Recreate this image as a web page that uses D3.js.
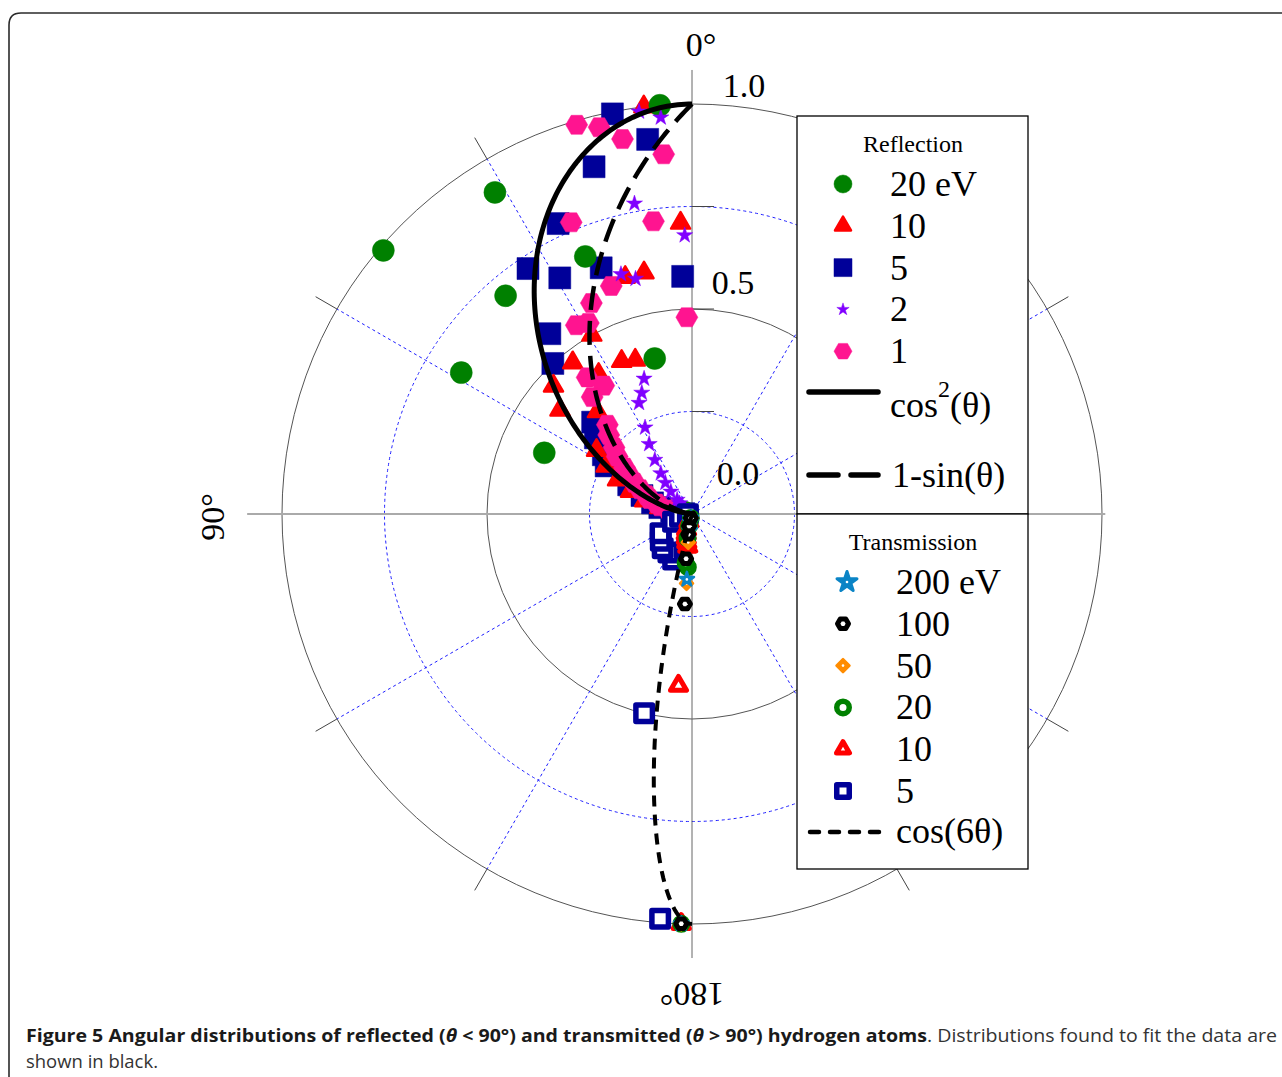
<!DOCTYPE html>
<html>
<head>
<meta charset="utf-8">
<title>Figure 5</title>
<script src="https://cdn.jsdelivr.net/npm/d3@7/dist/d3.min.js"></script>
<style>
  body { margin: 0; background: #fff; }
  svg { display: block; }
</style>
</head>
<body>
<svg id="polar_svg" width="1282" height="1077"></svg>
<script>
// angles are degrees from the surface normal (0 = top, 90 = left, 180 = bottom)
// values are yields normalised to 1

// reflection
var refl20Angles = [4.5, 13.5, 22.5, 31.5, 40.5, 49.5, 58.5, 67.5, 76.5, 85.5];
var refl20Values = [1.00, 0.39, 0.68, 0.92, 0.70, 0.99, 0.66, 0.39, 0.02, 0.01];

var refl10Angles = [2.25, 6.75, 11.25, 15.75, 20.25, 24.75, 29.25, 33.75, 38.25, 42.75,
                    47.25, 51.75, 56.25, 60.75, 65.25, 69.75, 74.25, 78.75, 83.25, 87.75];
var refl10Values = [0.71, 1.00, 0.60, 0.60, 0.40, 0.41, 0.50, 0.41, 0.47, 0.34,
                    0.46, 0.41, 0.28, 0.24, 0.20, 0.16, 0.12, 0.08, 0.05, 0.02];

var refl5Angles = [2.25, 6.75, 11.25, 15.75, 20.25, 24.75, 29.25, 33.75, 38.25, 42.75,
                   47.25, 51.75, 56.25, 60.75, 65.25, 69.75, 74.25, 78.75, 83.25, 87.75];
var refl5Values = [0.58, 0.92, 0.995, 0.88, 0.64, 0.78, 0.66, 0.72, 0.56, 0.50,
                   0.33, 0.30, 0.26, 0.24, 0.17, 0.13, 0.10, 0.08, 0.05, 0.02];

var refl2Angles = [1.5, 4.5, 7.5, 10.5, 13.5, 16.5, 19.5, 22.5, 25.5, 28.5,
                   31.5, 34.5, 37.5, 40.5, 43.5, 46.5, 49.5, 52.5, 55.5, 58.5,
                   61.5, 64.5, 67.5, 70.5, 73.5, 76.5, 79.5, 82.5, 85.5, 88.5];
var refl2Values = [0.68, 0.97, 0.99, 0.77, 0.59, 0.61, 0.35, 0.32, 0.30, 0.24,
                   0.20, 0.16, 0.125, 0.10, 0.075, 0.05, 0.04, 0.03, 0.025, 0.02,
                   0.02, 0.015, 0.015, 0.01, 0.01, 0.01, 0.01, 0.005, 0.005, 0.005];

var refl1Angles = [1.5, 4.5, 7.5, 10.5, 13.5, 16.5, 19.5, 22.5, 25.5, 28.5,
                   31.5, 34.5, 37.5, 40.5, 43.5, 46.5, 49.5, 52.5, 55.5, 58.5,
                   61.5, 64.5, 67.5, 70.5, 73.5, 76.5, 79.5, 82.5, 85.5, 88.5];
var refl1Values = [0.48, 0.88, 0.72, 0.93, 0.97, 0.99, 0.59, 0.77, 0.57, 0.53,
                   0.54, 0.38, 0.42, 0.375, 0.30, 0.28, 0.25, 0.23, 0.20, 0.18,
                   0.16, 0.14, 0.12, 0.11, 0.09, 0.08, 0.06, 0.045, 0.03, 0.02];

// transmission
var trans200Angles = [178.5, 175.5, 172.5, 169.5, 166.5];
var trans200Values = [1.00, 0.16, 0.04, 0.02, 0.01];

var trans100Angles = [178.5, 175.5, 172.5, 169.5, 166.5, 163.5];
var trans100Values = [1.00, 0.22, 0.11, 0.05, 0.03, 0.01];

var trans50Angles = [178.5, 175.5, 172.5, 169.5, 166.5];
var trans50Values = [1.00, 0.17, 0.07, 0.03, 0.01];

var trans20Angles = [178.5, 175.5, 172.5, 169.5, 166.5, 163.5];
var trans20Values = [1.00, 0.13, 0.12, 0.06, 0.03, 0.01];

var trans10Angles = [178.5, 175.5, 172.5, 169.5, 166.5, 163.5, 160.5, 157.5];
var trans10Values = [1.00, 0.42, 0.08, 0.07, 0.06, 0.05, 0.04, 0.02];

var trans5Angles = [175.5, 166.5, 157.5, 148.5, 139.5, 130.5, 121.5, 112.5, 103.5, 94.5];
var trans5Values = [0.99, 0.50, 0.12, 0.11, 0.11, 0.10, 0.09, 0.05, 0.03, 0.01];

var reflLabels = ["20 eV", "10", "5", "2", "1"];
var transLabels = ["200 eV", "100", "50", "20", "10", "5"];

var ringValues = [0.25, 0.5, 0.75, 1.0];
var spokeAngles = [30, 60, 120, 150, 210, 240, 300, 330];
var radialTickLabels = ["0.0", "0.5", "1.0"];

// ---------------------------------------------------------------------------

var svg = d3.select("#polar_svg");
var cx = 692, cy = 514;
var r = d3.scaleLinear().domain([0, 1]).range([0, 410]);
var serif = "'Liberation Serif', 'Times New Roman', serif";

function toRad(deg) { return deg * Math.PI / 180; }
// anticlockwise from the top
function polar(deg, v) { return d3.pointRadial(-toRad(deg), r(v)); }

// rounded frame
svg.append("path")
    .attr("d", "M9,1077 V25 Q9,13 21,13 H1282")
    .attr("fill", "none")
    .attr("stroke", "#2b2b2b")
    .attr("stroke-width", 1.6);

var plot = svg.append("g").attr("transform", `translate(${cx},${cy})`);

// rings
plot.append("g").selectAll("circle")
    .data(ringValues)
    .join("circle")
    .attr("r", d => r(d))
    .attr("fill", "none")
    .attr("stroke", (d, i) => i % 2 ? "#555" : "#1f1fff")
    .attr("stroke-width", 1)
    .attr("stroke-dasharray", (d, i) => i % 2 ? null : "3,3");

// spokes + outer ticks
plot.append("g").selectAll("line")
    .data(spokeAngles)
    .join("line")
    .attr("x1", 0).attr("y1", 0)
    .attr("x2", d => polar(d, 1)[0])
    .attr("y2", d => polar(d, 1)[1])
    .attr("stroke", "#1f1fff")
    .attr("stroke-width", 1)
    .attr("stroke-dasharray", "3,3");

plot.append("g").selectAll("line")
    .data(spokeAngles)
    .join("line")
    .attr("x1", d => polar(d, 1)[0])
    .attr("y1", d => polar(d, 1)[1])
    .attr("x2", d => polar(d, 1.06)[0])
    .attr("y2", d => polar(d, 1.06)[1])
    .attr("stroke", "#444")
    .attr("stroke-width", 1);

// main axes
plot.append("line")
    .attr("x1", polar(90, 1.085)[0]).attr("y1", 0)
    .attr("x2", polar(270, 1.008)[0]).attr("y2", 0)
    .attr("stroke", "#aaa").attr("stroke-width", 2);
plot.append("line")
    .attr("x1", 0).attr("y1", polar(0, 1.083)[1])
    .attr("x2", 0).attr("y2", polar(180, 1.083)[1])
    .attr("stroke", "#666").attr("stroke-width", 1);

// small radial ticks at the ring tops
plot.append("g").selectAll("line")
    .data(ringValues.slice(0, 3))
    .join("line")
    .attr("x1", 0).attr("x2", 22)
    .attr("y1", d => -r(d)).attr("y2", d => -r(d))
    .attr("stroke", "#444").attr("stroke-width", 1);

// ---- markers ----
function symbolPath(kind, s) {
  if (kind == "hexagon") {
    var pts = [0, 60, 120, 180, 240, 300].map(a => [s * Math.cos(toRad(a)), s * Math.sin(toRad(a))]);
    return d3.line()(pts) + "Z";
  }
  if (kind == "diamond") {
    return d3.line()([[0, -s], [s, 0], [0, s], [-s, 0]]) + "Z";
  }
  if (kind == "circle") return d3.symbol(d3.symbolCircle, Math.PI * s * s)();
  if (kind == "square") return d3.symbol(d3.symbolSquare, 4 * s * s)();
  if (kind == "triangle") return d3.symbol(d3.symbolTriangle, Math.sqrt(3) * s * s)();
  if (kind == "star") return d3.symbol(d3.symbolStar, s * s / 0.8908130915292852)();
}

function drawMarker(g, spec, s, sw) {
  g.append("path")
      .attr("d", symbolPath(spec.kind, s))
      .attr("fill", spec.hollow ? "#fff" : spec.color)
      .attr("stroke", spec.color)
      .attr("stroke-width", sw)
      .attr("stroke-linejoin", "round");
  if (spec.dot) {
    g.append("circle").attr("r", 1.3).attr("fill", "#fff");
  }
}

var reflSeries = [
  {label: reflLabels[0], angles: refl20Angles, values: refl20Values, kind: "circle",   color: "#008000", s: 11,  ls: 9,   sw: 0.5},
  {label: reflLabels[1], angles: refl10Angles, values: refl10Values, kind: "triangle", color: "#ff0000", s: 9.5, ls: 8,   sw: 2.5},
  {label: reflLabels[2], angles: refl5Angles,  values: refl5Values,  kind: "square",   color: "#000099", s: 11,  ls: 9,   sw: 0.5},
  {label: reflLabels[3], angles: refl2Angles,  values: refl2Values,  kind: "star",     color: "#8000ff", s: 8.5, ls: 6.5, sw: 0.5},
  {label: reflLabels[4], angles: refl1Angles,  values: refl1Values,  kind: "hexagon",  color: "#ff1490", s: 11,  ls: 9,   sw: 0.5}
];

var transSeries = [
  {label: transLabels[0], angles: trans200Angles, values: trans200Values, kind: "star",     color: "#0a84c6", s: 7.5,  ls: 10.5, sw: 2.5, lsw: 3,   dot: true},
  {label: transLabels[1], angles: trans100Angles, values: trans100Values, kind: "hexagon",  color: "#000000", s: 5.5,  ls: 5.5,  sw: 5,   lsw: 5,   hollow: true},
  {label: transLabels[2], angles: trans50Angles,  values: trans50Values,  kind: "diamond",  color: "#ff8c00", s: 6.5,  ls: 6.5,  sw: 2.5, lsw: 2.5, dot: true},
  {label: transLabels[3], angles: trans20Angles,  values: trans20Values,  kind: "circle",   color: "#008000", s: 6.25, ls: 6.25, sw: 5.5, lsw: 5.5, hollow: true},
  {label: transLabels[4], angles: trans10Angles,  values: trans10Values,  kind: "triangle", color: "#ff0000", s: 8,    ls: 6.5,  sw: 5,   lsw: 5,   hollow: true},
  {label: transLabels[5], angles: trans5Angles,   values: trans5Values,   kind: "square",   color: "#000099", s: 8.25, ls: 6.25, sw: 5.5, lsw: 5.5, hollow: true}
];

function plotSeries(spec) {
  var pts = spec.angles.map((a, i) => polar(a, spec.values[i]));
  plot.append("g")
      .selectAll("g")
      .data(pts)
      .join("g")
      .attr("transform", d => `translate(${d[0]},${d[1]})`)
      .each(function () { drawMarker(d3.select(this), spec, spec.s, spec.sw); });
}

// draw order so the overlaps look like the original
[2, 1, 0, 4, 3].forEach(i => plotSeries(reflSeries[i]));
[5, 4, 3, 2, 0, 1].forEach(i => plotSeries(transSeries[i]));

// ---- fitted distributions ----
var radial = d3.lineRadial()
    .angle(d => -toRad(d[0]))
    .radius(d => r(Math.max(0, d[1])));

var cos2Pts = d3.range(0, 90.01, 0.5).map(t => [t, Math.pow(Math.cos(toRad(t)), 2)]);
var oneMinusSinPts = d3.range(0, 90.01, 0.5).map(t => [t, 1 - Math.sin(toRad(t))]);
var cos6Pts = d3.range(165, 180.01, 0.25).map(t => [t, Math.cos(toRad(6 * t))]);

plot.append("path").attr("d", radial(cos2Pts))
    .attr("fill", "none").attr("stroke", "#000").attr("stroke-width", 5);
plot.append("path").attr("d", radial(oneMinusSinPts))
    .attr("fill", "none").attr("stroke", "#000").attr("stroke-width", 4.5)
    .attr("stroke-dasharray", "24,11");
plot.append("path").attr("d", radial(cos6Pts))
    .attr("fill", "none").attr("stroke", "#000").attr("stroke-width", 4)
    .attr("stroke-dasharray", "11,8");

// ---- axis labels ----
var labelFont = {"font-family": serif, "font-size": "34px", "fill": "#000"};
function styled(sel, st) { Object.keys(st).forEach(k => sel.attr(k, st[k])); return sel; }

styled(svg.append("text"), labelFont).attr("x", 701).attr("y", 56)
    .attr("text-anchor", "middle").text("0°");
styled(svg.append("text"), labelFont).attr("text-anchor", "middle")
    .attr("transform", "translate(224,517) rotate(-90)").text("90°");
styled(svg.append("text"), labelFont).attr("text-anchor", "middle")
    .attr("transform", "translate(692,983) rotate(180)").text("180°");

var radialLabelPos = [[738, 485], [733, 294], [744, 97]];
radialTickLabels.forEach((t, i) => {
  styled(svg.append("text"), labelFont)
      .attr("x", radialLabelPos[i][0]).attr("y", radialLabelPos[i][1])
      .attr("text-anchor", "middle").text(t);
});

// ---- legend ----
var legend = svg.append("g");
legend.append("rect").attr("x", 797).attr("y", 116).attr("width", 231).attr("height", 398)
    .attr("fill", "#fff").attr("stroke", "#000").attr("stroke-width", 1.3);
legend.append("rect").attr("x", 797).attr("y", 514).attr("width", 231).attr("height", 355)
    .attr("fill", "#fff").attr("stroke", "#000").attr("stroke-width", 1.3);

legend.append("text").attr("x", 913).attr("y", 152).attr("text-anchor", "middle")
    .attr("font-family", serif).attr("font-size", "24px").text("Reflection");
legend.append("text").attr("x", 913).attr("y", 550).attr("text-anchor", "middle")
    .attr("font-family", serif).attr("font-size", "24px").text("Transmission");

reflSeries.forEach((spec, i) => {
  var y = 184 + i * 41.8;
  var g = legend.append("g").attr("transform", `translate(843,${y})`);
  drawMarker(g, spec, spec.ls, spec.sw);
  legend.append("text").attr("x", 890).attr("y", y + 12)
      .attr("font-family", serif).attr("font-size", "36px").text(spec.label);
});

legend.append("line").attr("x1", 809).attr("x2", 878).attr("y1", 392).attr("y2", 392)
    .attr("stroke", "#000").attr("stroke-width", 5.5).attr("stroke-linecap", "round");
var cosText = legend.append("text").attr("x", 890).attr("y", 417)
    .attr("font-family", serif).attr("font-size", "36px");
cosText.append("tspan").text("cos");
cosText.append("tspan").attr("font-size", "24px").attr("dy", -20).text("2");
cosText.append("tspan").attr("dy", 20).text("(θ)");

legend.append("line").attr("x1", 809).attr("x2", 878).attr("y1", 475).attr("y2", 475)
    .attr("stroke", "#000").attr("stroke-width", 5.5).attr("stroke-linecap", "round")
    .attr("stroke-dasharray", "29,13");
legend.append("text").attr("x", 892).attr("y", 487)
    .attr("font-family", serif).attr("font-size", "36px").text("1-sin(θ)");

transSeries.forEach((spec, i) => {
  var y = 582 + i * 41.8;
  var g = legend.append("g").attr("transform", `translate(${i == 0 ? 847 : 843},${y})`);
  drawMarker(g, spec, spec.ls, spec.lsw);
  legend.append("text").attr("x", 896).attr("y", y + 12)
      .attr("font-family", serif).attr("font-size", "36px").text(spec.label);
});

legend.append("line").attr("x1", 810).attr("x2", 881).attr("y1", 832).attr("y2", 832)
    .attr("stroke", "#000").attr("stroke-width", 4.5).attr("stroke-linecap", "round")
    .attr("stroke-dasharray", "9,11");
legend.append("text").attr("x", 896).attr("y", 843)
    .attr("font-family", serif).attr("font-size", "36px").text("cos(6θ)");

// ---- caption ----
var cap = svg.append("text").attr("x", 26).attr("y", 1042)
    .attr("font-family", "'Open Sans', 'Noto Sans', sans-serif").attr("font-size", "18px")
    .attr("fill", "#333")
    .attr("textLength", 1251).attr("lengthAdjust", "spacingAndGlyphs");
var bold = cap.append("tspan").attr("font-weight", "bold").attr("fill", "#1a1a1a");
bold.append("tspan").text("Figure 5 Angular distributions of reflected (");
bold.append("tspan").attr("font-style", "italic").text("θ");
bold.append("tspan").text(" < 90°) and transmitted (");
bold.append("tspan").attr("font-style", "italic").text("θ");
bold.append("tspan").text(" > 90°) hydrogen atoms");
cap.append("tspan").text(". Distributions found to fit the data are");

svg.append("text").attr("x", 26).attr("y", 1068)
    .attr("font-family", "'Open Sans', 'Noto Sans', sans-serif").attr("font-size", "18px")
    .attr("fill", "#333")
    .attr("textLength", 132).attr("lengthAdjust", "spacingAndGlyphs")
    .text("shown in black.");
</script>
</body>
</html>
